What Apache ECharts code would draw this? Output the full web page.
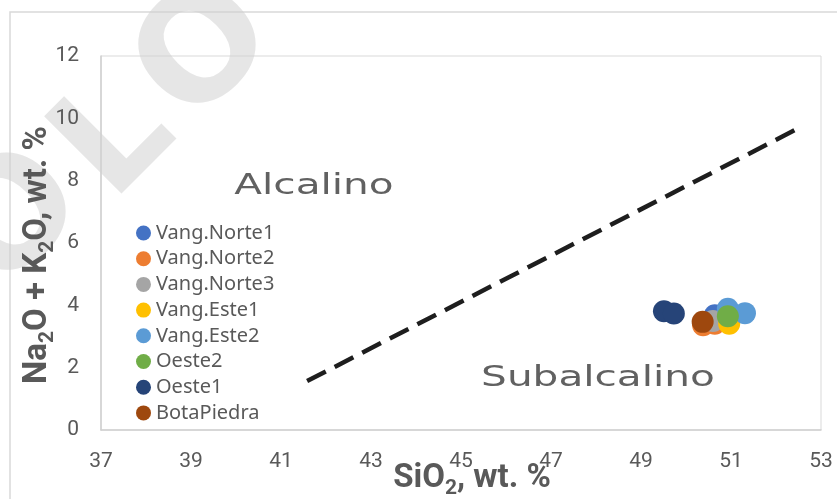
<!DOCTYPE html>
<html>
<head>
<meta charset="utf-8">
<script src="https://cdn.jsdelivr.net/npm/echarts@6/dist/echarts.min.js"></script>
<style>html,body{margin:0;padding:0;background:#fff;}#c{width:837px;height:499px;}</style>
</head>
<body>
<div id="c"></div>
<script>
// ---- data ----
var seriesNames = ['Vang.Norte1','Vang.Norte2','Vang.Norte3','Vang.Este1','Vang.Este2','Oeste2','Oeste1','BotaPiedra'];
var seriesColors = ['#4472C4','#ED7D31','#A5A5A5','#FFC000','#5B9BD5','#70AD47','#264478','#9E480E'];
var vangNorte1 = [[50.64, 3.68]];
var vangNorte2 = [[50.38, 3.36], [50.64, 3.41]];
var vangNorte3 = [[50.6, 3.5]];
var vangEste1 = [[50.96, 3.41]];
var vangEste2 = [[50.93, 3.89], [51.31, 3.75]];
var oeste2 = [[50.93, 3.65]];
var oeste1 = [[49.51, 3.81], [49.73, 3.74]];
var botaPiedra = [[50.37, 3.47]];
var boundaryLine = [[41.58, 1.57], [52.47, 9.66]];
var xTicks = [37, 39, 41, 43, 45, 47, 49, 51, 53];
var yTicks = [0, 2, 4, 6, 8, 10, 12];
var regionLabels = ['Alcalino', 'Subalcalino'];

var seriesData = [vangNorte1, vangNorte2, vangNorte3, vangEste1, vangEste2, oeste2, oeste1, botaPiedra];

var chart = echarts.init(document.getElementById('c'), null, {renderer: 'canvas'});
var txt = '#595959';
var series = seriesNames.map(function (n, i) {
  return {
    name: n, type: 'scatter', data: seriesData[i], symbol: 'circle', symbolSize: 22,
    itemStyle: {color: seriesColors[i], opacity: 1}, z: 5, silent: true
  };
});
series.unshift({
  name: 'limite', type: 'line', data: boundaryLine, showSymbol: false, symbol: 'none',
  lineStyle: {color: '#1e1e1e', width: 4.5, type: [21, 10], cap: 'butt'}, z: 3, silent: true
});

var wm = {type: 'text', silent: true, z: 0, style: {fill: 'rgba(205,205,205,0.5)', font: 'bold 150px "DejaVu Sans"', textAlign: 'center', textVerticalAlign: 'middle'}};
function wmLetter(ch, x, y) {
  return echarts.util.merge({x: x, y: y, rotation: Math.PI / 4, style: {text: ch}}, wm, false);
}
var titleRich = {
  m: {fontSize: 33, fontWeight: 'bold', fill: txt, fontFamily: 'Roboto', lineHeight: 40, verticalAlign: 'middle'},
  s: {fontSize: 21, fontWeight: 'bold', fill: txt, fontFamily: 'Roboto', lineHeight: 21, verticalAlign: 'bottom'}
};

chart.setOption({
  animation: false,
  backgroundColor: '#ffffff',
  grid: {left: 101, top: 56, right: 16, bottom: 69, show: true, borderColor: '#d9d9d9', borderWidth: 1, backgroundColor: '#ffffff'},
  xAxis: {
    type: 'value', min: xTicks[0], max: xTicks[xTicks.length - 1], interval: 2,
    axisLine: {show: true, onZero: false, lineStyle: {color: '#d0d0d0', width: 1.5}},
    axisTick: {show: false}, splitLine: {show: false},
    axisLabel: {color: txt, fontSize: 21, fontFamily: 'Roboto', margin: 21}
  },
  yAxis: {
    type: 'value', min: yTicks[0], max: yTicks[yTicks.length - 1], interval: 2,
    axisLine: {show: true, onZero: false, lineStyle: {color: '#d0d0d0', width: 1.5}},
    axisTick: {show: false}, splitLine: {show: false},
    axisLabel: {color: txt, fontSize: 21, fontFamily: 'Roboto', margin: 22}
  },
  legend: {
    data: seriesNames, orient: 'vertical', left: 131, top: 218, itemGap: 5.7,
    itemWidth: 15, itemHeight: 15, icon: 'circle',
    textStyle: {color: txt, fontSize: 20, fontFamily: 'Noto Sans', lineHeight: 20},
    selectedMode: false
  },
  graphic: [
    {type: 'rect', silent: true, z: -1, shape: {x: 10, y: 12, width: 840, height: 500}, style: {fill: 'none', stroke: '#d9d9d9', lineWidth: 1.5}},
    wmLetter('O', 18, 222),
    wmLetter('L', 118, 142),
    wmLetter('O', 208, 55),
    {type: 'text', silent: true, z: 4, x: 314, y: 187, scaleX: 1.45, style: {text: regionLabels[0], fill: '#505050', font: '28px "DejaVu Sans"', textAlign: 'center', textVerticalAlign: 'middle', opacity: 0.9}},
    {type: 'text', silent: true, z: 4, x: 598, y: 379, scaleX: 1.45, style: {text: regionLabels[1], fill: '#505050', font: '28px "DejaVu Sans"', textAlign: 'center', textVerticalAlign: 'middle', opacity: 0.9}},
    {type: 'text', silent: true, z: 10, x: 472, y: 479, style: {
      text: '{m|SiO}{s|2}{m|, wt. %}', textAlign: 'center', textVerticalAlign: 'middle', rich: titleRich
    }},
    {type: 'text', silent: true, z: 10, x: 38, y: 255, rotation: Math.PI / 2, style: {
      text: '{m|Na}{s|2}{m|O + K}{s|2}{m|O, wt. %}', textAlign: 'center', textVerticalAlign: 'middle', rich: titleRich
    }}
  ],
  series: series
});
</script>
</body>
</html>
